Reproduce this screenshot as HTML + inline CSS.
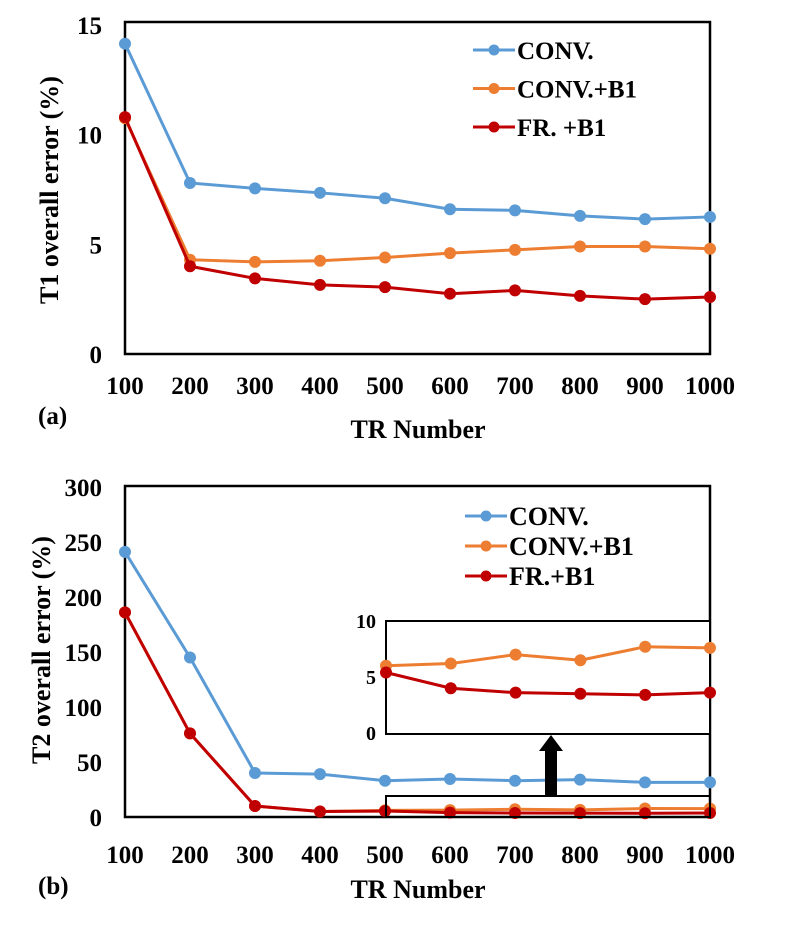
<!DOCTYPE html>
<html><head><meta charset="utf-8">
<style>
html,body{margin:0;padding:0;background:#fff;}
svg text{font-family:"Liberation Serif",serif;font-weight:bold;fill:#000;}
</style></head>
<body>
<svg id="fig" width="811" height="945" xmlns="http://www.w3.org/2000/svg"></svg>
<script>
const categories=[100,200,300,400,500,600,700,800,900,1000];
const a_conv=[14.15,7.8,7.55,7.35,7.1,6.6,6.55,6.3,6.15,6.25];
const a_convb1=[10.75,4.3,4.2,4.25,4.4,4.6,4.75,4.9,4.9,4.8];
const a_fr=[10.8,4.0,3.45,3.15,3.05,2.75,2.9,2.65,2.5,2.6];
const a_ticks=[0,5,10,15];
const b_conv=[241,145,40,39,33,34.5,33,34,31.5,31.5];
const b_convb1=[186,76,10,5,6,6.2,7,6.5,7.7,7.6];
const b_fr=[186,76,10,5,5.4,4,3.6,3.5,3.4,3.6];
const b_ticks=[0,50,100,150,200,250,300];
const inset_cats=[500,600,700,800,900,1000];
const inset_convb1=[6.0,6.2,7.0,6.5,7.7,7.6];
const inset_fr=[5.4,4.0,3.6,3.5,3.4,3.6];
const inset_ticks=[0,5,10];
const colors=["#5b9bd5","#ed7d31","#c00000"];
const NS="http://www.w3.org/2000/svg";
const svg=document.getElementById('fig');
function mk(tag,attrs,parent){const e=document.createElementNS(NS,tag);for(const k in attrs)e.setAttribute(k,attrs[k]);(parent||svg).appendChild(e);return e;}
function txt(x,y,s,size,anchor,name,rot){const t=mk('text',{x:x,y:y,'font-size':size,'text-anchor':anchor||'middle'});if(rot)t.setAttribute('transform',rot);t.textContent=s;


return t;}
function series(xf,yf,xs,ys,color,name,r,w){
 const pts=xs.map((c,i)=>xf(c)+','+yf(ys[i])).join(' ');
 const l=mk('polyline',{points:pts,fill:'none',stroke:color,'stroke-width':w||3});
 
 
 xs.forEach((c,i)=>{const p=mk('circle',{cx:xf(c),cy:yf(ys[i]),r:r||6,fill:color});
  
  });
}
function legend(x,y0,dy,names,size){
 names.forEach((n,i)=>{const y=y0+i*dy;
  const l=mk('line',{x1:x,y1:y,x2:x+42,y2:y,stroke:colors[i],'stroke-width':3});
  
  
  const c=mk('circle',{cx:x+21,cy:y,r:5.5,fill:colors[i]});
  
  
  txt(x+44,y+9,n,size,'start','legend-entry');});
}
// Chart A
const ax=c=>125+(c-100)/900*585;
const ay=v=>354-v*21.93;
let f=mk('rect',{x:125,y:22,width:585,height:332,fill:'none',stroke:'#000','stroke-width':2.5});


a_ticks.forEach(v=>txt(102,ay(v)+9,String(v),25,'end','y-tick-a'));
categories.forEach(c=>txt(ax(c),394,String(c),25,'middle','x-tick-a'));
series(ax,ay,categories,a_conv,colors[0],'a-conv');
series(ax,ay,categories,a_convb1,colors[1],'a-convb1');
series(ax,ay,categories,a_fr,colors[2],'a-fr');
legend(473,50,38.5,["CONV.","CONV.+B1","FR. +B1"],25);
txt(58,190,"T1 overall error (%)",26,'middle','y-axis-title-a','rotate(-90 58 190)');
txt(418,438,"TR Number",26,'middle','x-axis-title-a');
txt(38,424,"(a)",25,'start','panel-label-a');
// Chart B
const bx=ax;
const by=v=>817-v*1.1;
f=mk('rect',{x:125,y:486,width:585,height:331,fill:'none',stroke:'#000','stroke-width':2.5});


b_ticks.forEach(v=>txt(102,by(v)+9,String(v),25,'end','y-tick-b'));
categories.forEach(c=>txt(bx(c),863,String(c),25,'middle','x-tick-b'));
series(bx,by,categories,b_conv,colors[0],'b-conv');
series(bx,by,categories,b_convb1,colors[1],'b-convb1');
series(bx,by,categories,b_fr,colors[2],'b-fr');
legend(465,516,30,["CONV.","CONV.+B1","FR.+B1"],26);
txt(50,650,"T2 overall error (%)",26,'middle','y-axis-title-b','rotate(-90 50 650)');
txt(418,898,"TR Number",26,'middle','x-axis-title-b');
txt(38,894,"(b)",25,'start','panel-label-b');
// zoom region box
f=mk('rect',{x:386,y:796,width:324,height:21,fill:'none',stroke:'#000','stroke-width':2});


const ar=mk('path',{d:'M545 795 L545 751 L539 751 L551 735 L563 751 L557 751 L557 795 Z',fill:'#000'});


// inset
const ix=c=>386+(c-500)/500*324;
const iy=v=>733-v*11.2;
f=mk('rect',{x:386,y:621,width:324,height:113,fill:'#fff',stroke:'#000','stroke-width':2});


inset_ticks.forEach(v=>txt(376,iy(v)+7,String(v),20,'end','inset-y-tick'));
series(ix,iy,inset_cats,inset_convb1,colors[1],'inset-convb1',6,3);
series(ix,iy,inset_cats,inset_fr,colors[2],'inset-fr',6,3);
</script>
</body></html>
